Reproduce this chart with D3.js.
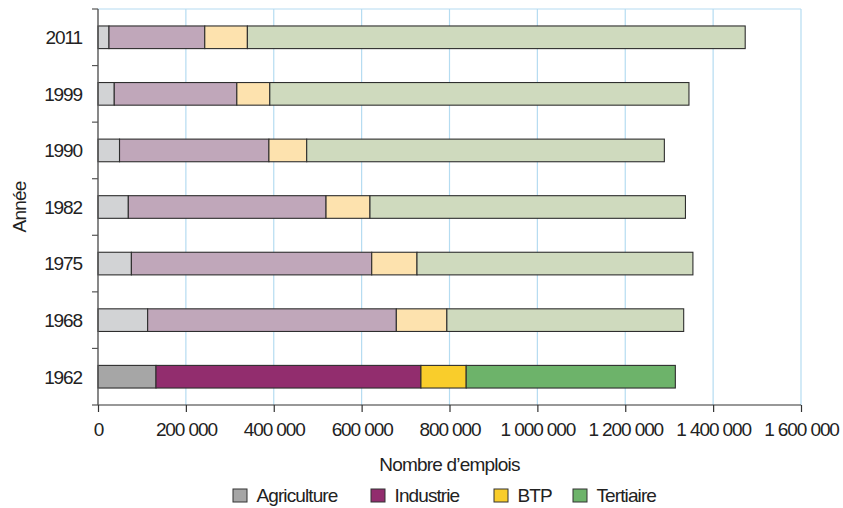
<!DOCTYPE html>
<html lang="fr">
<head>
<meta charset="UTF-8">
<title>Emplois par secteur</title>
<script src="https://d3js.org/d3.v7.min.js"></script>
<style>
  body { margin: 0; background: #fff; font-family: "Liberation Sans", Arial, sans-serif; }
  svg { display: block; }
  svg text { fill: #222; }
</style>
</head>
<body>
<svg id="chart"></svg>
<script>
// Data (nombre d'emplois par secteur)
const years = ["2011", "1999", "1990", "1982", "1975", "1968", "1962"];
const agriculture = [25000, 37000, 49000, 69000, 76000, 113000, 132000];
const industrie   = [218000, 279000, 340000, 450000, 547000, 566000, 603000];
const btp         = [97000, 75000, 86000, 100000, 103000, 115000, 103000];
const tertiaire   = [1133000, 954000, 814000, 718000, 628000, 539000, 476000];
const sectors = ["Agriculture", "Industrie", "BTP", "Tertiaire"];
const xTicks = [0, 200000, 400000, 600000, 800000, 1000000, 1200000, 1400000, 1600000];

const strong = ["#a6a6a6", "#922d6e", "#f9cd2b", "#6db36a"];
const pale   = ["#d2d3d5", "#c0a7ba", "#fde2ae", "#cfdabe"];

const width = 843, height = 508;
const margin = { top: 9, right: 42, bottom: 103, left: 98 };

const svg = d3.select("#chart").attr("width", width).attr("height", height);

const rows = years.map((y, i) => ({ year: y, values: [agriculture[i], industrie[i], btp[i], tertiaire[i]] }));
const stacked = d3.stack().keys([0, 1, 2, 3]).value((d, k) => d.values[k])(rows);

const x = d3.scaleLinear().domain([0, 1600000]).range([margin.left, width - margin.right]);
const y = d3.scaleBand().domain(years).range([margin.top, height - margin.bottom])
  .paddingInner(0.6).paddingOuter(0.3);

const fmt = v => d3.format(",")(v).replace(/,/g, " ");

// grid
svg.append("g").selectAll("line").data(xTicks.slice(1)).join("line")
  .attr("x1", d => x(d)).attr("x2", d => x(d))
  .attr("y1", margin.top).attr("y2", height - margin.bottom)
  .attr("stroke", "#b5dcf1").attr("stroke-width", 1.2);
svg.append("line")
  .attr("x1", x(0)).attr("x2", x(1600000))
  .attr("y1", margin.top).attr("y2", margin.top)
  .attr("stroke", "#b5dcf1").attr("stroke-width", 1.2);

// bars
stacked.forEach((layer, k) => {
  svg.append("g").selectAll("rect").data(layer).join("rect")
    .attr("x", d => x(d[0]))
    .attr("width", d => x(d[1]) - x(d[0]))
    .attr("y", d => y(d.data.year))
    .attr("height", y.bandwidth())
    .attr("fill", d => d.data.year === "1962" ? strong[k] : pale[k])
    .attr("stroke", "#2e2e2e")
    .attr("stroke-width", 1.1);
});

// x axis
const xAxis = svg.append("g")
  .attr("transform", `translate(0,${height - margin.bottom})`)
  .call(d3.axisBottom(x).tickValues(xTicks).tickFormat(fmt).tickSize(7).tickSizeOuter(0));
xAxis.select(".domain").remove();
xAxis.append("line").attr("x1", x(0) - 6).attr("x2", x(1600000)).attr("stroke", "#333").attr("stroke-width", 1.2);
xAxis.selectAll(".tick line").attr("stroke", "#333").attr("stroke-width", 1.2);
xAxis.selectAll(".tick text").attr("y", 0).attr("dy", 0)
  .attr("transform", "translate(0,31)")
  .style("font-size", "19px").style("letter-spacing", "-1.1px").style("fill", "#222");

// y axis
const yAxis = svg.append("g").attr("transform", `translate(${margin.left},0)`);
yAxis.append("line").attr("y1", margin.top).attr("y2", height - margin.bottom)
  .attr("stroke", "#555").attr("stroke-width", 1.4);
const boundaries = years.map(yr => y(yr) - y.step() * y.paddingOuter());
yAxis.selectAll(".sep").data(boundaries).join("line")
  .attr("x1", -6).attr("x2", 0).attr("y1", d => d).attr("y2", d => d)
  .attr("stroke", "#555").attr("stroke-width", 1.2);
yAxis.selectAll(".lbl").data(years).join("text")
  .attr("x", -16).attr("y", d => y(d) + y.bandwidth() / 2)
  .attr("dy", "0.36em").attr("text-anchor", "end")
  .style("font-size", "19px").style("letter-spacing", "-1.1px")
  .text(d => d);

// axis titles
svg.append("text")
  .attr("transform", `translate(26,${(margin.top + height - margin.bottom) / 2}) rotate(-90)`)
  .attr("text-anchor", "middle")
  .style("font-size", "19px").style("letter-spacing", "-0.8px")
  .text("Année");
svg.append("text")
  .attr("x", (x(0) + x(1600000)) / 2).attr("y", 471)
  .attr("text-anchor", "middle")
  .style("font-size", "19px").style("letter-spacing", "-0.8px")
  .text("Nombre d’emplois");

// legend
const legendX = [233, 371, 494, 573];
const legend = svg.append("g").selectAll("g").data(sectors).join("g")
  .attr("transform", (d, i) => `translate(${legendX[i]},489)`);
legend.append("rect").attr("width", 14).attr("height", 13)
  .attr("fill", (d, i) => strong[i]).attr("stroke", "#333").attr("stroke-width", 1);
legend.append("text").attr("x", 23.5).attr("y", 13)
  .style("font-size", "19px").style("letter-spacing", "-0.9px")
  .text(d => d);
</script>
</body>
</html>
